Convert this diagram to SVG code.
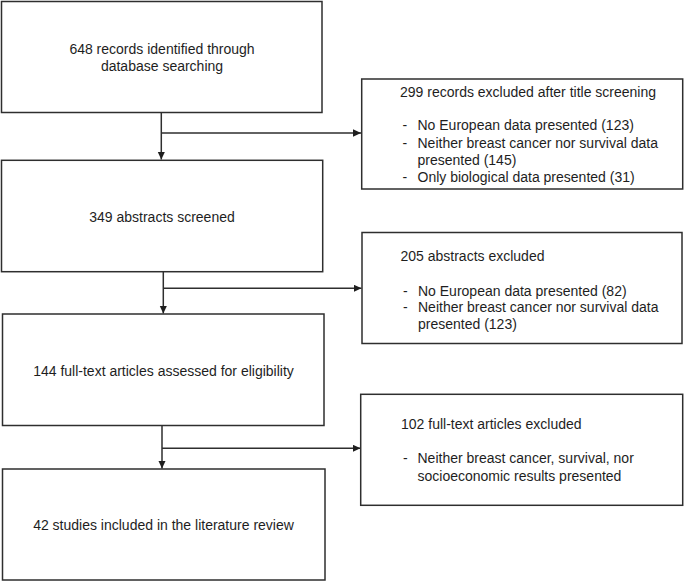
<svg xmlns="http://www.w3.org/2000/svg" width="685" height="581" viewBox="0 0 685 581">
  <style>
    .box { fill: #ffffff; stroke: #2e2e2e; stroke-width: 1.5; }
    .conn { fill: none; stroke: #2e2e2e; stroke-width: 1.5; }
    text { font-family: "Liberation Sans", Arial, Helvetica, sans-serif; font-size: 14px; fill: #1e1e1e; }
    .c { text-anchor: middle; }
  </style>
  <defs>
    <marker id="arrow" markerUnits="userSpaceOnUse" markerWidth="8" markerHeight="8" refX="8" refY="3.75" orient="auto">
      <path d="M0,0 L8,3.75 L0,7.5 z" fill="#1e1e1e"/>
    </marker>
  </defs>
  <rect width="685" height="581" fill="#ffffff"/>

  <g id="connectors">
    <path class="conn" d="M161.3,112.5 V159.5" marker-end="url(#arrow)"/>
    <path class="conn" d="M161.3,133 H361" marker-end="url(#arrow)"/>
    <path class="conn" d="M163.3,270 V313.5" marker-end="url(#arrow)"/>
    <path class="conn" d="M163.3,288.3 H361.5" marker-end="url(#arrow)"/>
    <path class="conn" d="M162,425.5 V468.5" marker-end="url(#arrow)"/>
    <path class="conn" d="M162,448.3 H360.5" marker-end="url(#arrow)"/>
  </g>

  <g id="identified">
    <rect class="box" x="1.5" y="1.5" width="320.5" height="111"/>
    <text class="c" x="162" y="54">648 records identified through</text>
    <text class="c" x="162" y="71">database searching</text>
  </g>

  <g id="screened">
    <rect class="box" x="1.5" y="160.3" width="321.2" height="111.4"/>
    <text class="c" x="162" y="221.5">349 abstracts screened</text>
  </g>

  <g id="fulltext">
    <rect class="box" x="2.5" y="314" width="321.5" height="111.5"/>
    <text class="c" x="163.5" y="375.5">144 full-text articles assessed for eligibility</text>
  </g>

  <g id="included">
    <rect class="box" x="2.5" y="469" width="322.5" height="111"/>
    <text class="c" x="163.5" y="530">42 studies included in the literature review</text>
  </g>

  <g id="excluded-title">
    <rect class="box" x="361.7" y="79" width="321" height="110"/>
    <text x="400" y="97">299 records excluded after title screening</text>
    <text x="402.5" y="130">-</text>
    <text x="417.5" y="130">No European data presented (123)</text>
    <text x="402.5" y="147.5">-</text>
    <text x="417.5" y="147.5">Neither breast cancer nor survival data</text>
    <text x="417.5" y="164.5">presented (145)</text>
    <text x="402.5" y="181.5">-</text>
    <text x="417.5" y="181.5">Only biological data presented (31)</text>
  </g>

  <g id="excluded-abstracts">
    <rect class="box" x="362" y="232.5" width="320" height="111"/>
    <text x="400.5" y="260.5">205 abstracts excluded</text>
    <text x="403" y="295.5">-</text>
    <text x="418" y="295.5">No European data presented (82)</text>
    <text x="403" y="312.3">-</text>
    <text x="418" y="312.3">Neither breast cancer nor survival data</text>
    <text x="418" y="329">presented (123)</text>
  </g>

  <g id="excluded-fulltext">
    <rect class="box" x="360.7" y="394.3" width="322" height="111"/>
    <text x="401" y="429">102 full-text articles excluded</text>
    <text x="403" y="463">-</text>
    <text x="417.5" y="463">Neither breast cancer, survival, nor</text>
    <text x="417.5" y="481">socioeconomic results presented</text>
  </g>
</svg>
